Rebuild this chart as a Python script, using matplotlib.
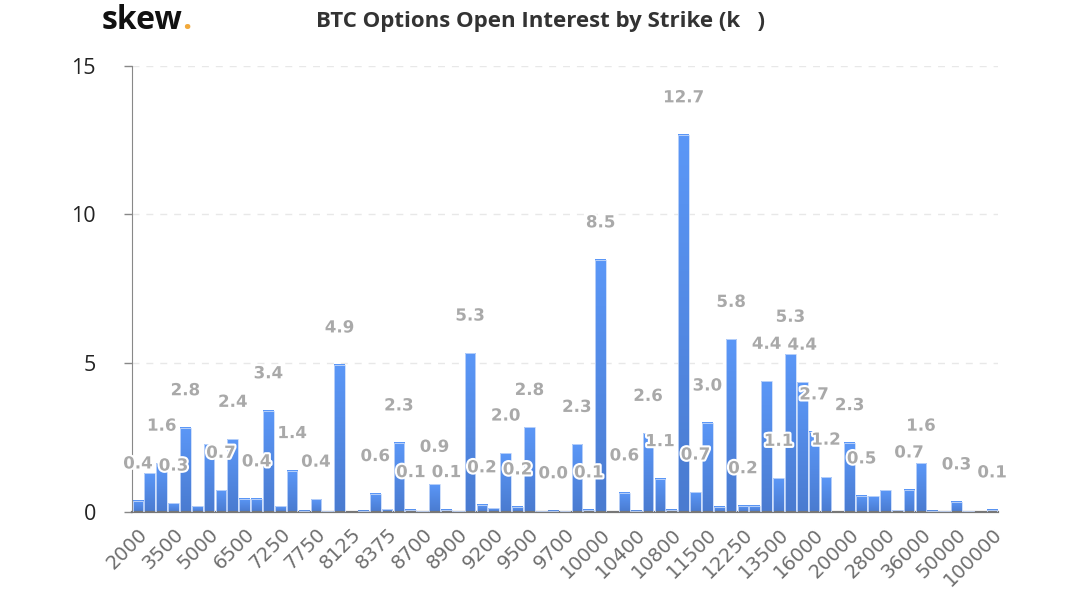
import matplotlib.pyplot as plt
import matplotlib.patheffects as pe
import numpy as np

values = [0.37, 1.3, 1.64, 0.3, 2.83, 0.2, 2.27, 0.73, 2.44, 0.44,
          0.44, 3.4, 0.2, 1.39, 0.04, 0.43, 0.03, 4.94, 0.01, 0.04,
          0.62, 0.1, 2.32, 0.08, 0.03, 0.93, 0.08, 0.02, 5.34, 0.24,
          0.12, 1.98, 0.17, 2.84, 0.03, 0.04, 0.03, 2.27, 0.07, 8.47,
          0.01, 0.64, 0.05, 2.64, 1.12, 0.08, 12.67, 0.67, 2.99, 0.17,
          5.8, 0.21, 0.21, 4.39, 1.13, 5.3, 4.36, 2.69, 1.17, 0.01,
          2.33, 0.54, 0.53, 0.73, 0.06, 0.74, 1.64, 0.05, 0.03, 0.34,
          0.03, 0.01, 0.07]
# only every few bars gets a label in the original
labelled = [0, 2, 3, 4, 7, 8, 10, 11, 13, 15, 17, 20, 22, 23, 25, 26, 28, 29,
            31, 32, 33, 35, 37, 38, 39, 41, 43, 44, 46, 47, 48, 50, 51, 53, 54,
            55, 56, 57, 58, 60, 61, 65, 66, 69, 72]
ticklabels = ["2000", "3500", "5000", "6500", "7250", "7750", "8125", "8375",
              "8700", "8900", "9200", "9500", "9700", "10000", "10400", "10800",
              "11500", "12250", "13500", "16000", "20000", "28000", "36000",
              "50000", "100000"]

W, H = 1080, 603
fig = plt.figure(figsize=(W / 100, H / 100), dpi=100)
ax = fig.add_axes([132 / W, 1 - 512 / H, 866 / W, (512 - 65.5) / H])

x = np.arange(len(values))
grad = np.linspace(0, 1, 64).reshape(-1, 1)
cmap = plt.matplotlib.colors.LinearSegmentedColormap.from_list("bar", ["#5b97f7", "#4a7bd0"])
bars = ax.bar(x, values, width=0.9, color="none", edgecolor="#c6d9fa", linewidth=0.6, zorder=3)
for xx, v in zip(x, values):
    ax.imshow(grad, extent=(xx - 0.45, xx + 0.45, 0, v), aspect="auto", cmap=cmap,
              origin="upper", zorder=2, interpolation="bilinear")

for i in labelled:
    ax.annotate(f"{values[i]:.1f}", (x[i], values[i]), xytext=(0, 27), textcoords="offset points",
                ha="center", va="center", fontsize=12, fontweight="bold", color="#a9a9a9",
                zorder=5, path_effects=[pe.withStroke(linewidth=3, foreground="white")])

ax.set_xlim(-0.5, len(values) - 0.5)
ax.set_ylim(0, 15)
ax.set_yticks([0, 5, 10, 15])
ax.set_xticks(x[::3])
ax.set_xticklabels(ticklabels, rotation=45, ha="right", rotation_mode="anchor",
                   fontsize=14, color="#6e6e6e")
ax.tick_params(axis="x", length=0, pad=9)
ax.tick_params(axis="y", length=6, width=1, color="#888888", pad=20, labelsize=15.5, labelcolor="#222222")
for t in ax.get_yticklabels():
    t.set_family("Open Sans")

ax.yaxis.grid(True, linestyle=(0, (5, 5)), color="#e8e8e8", linewidth=1)
ax.set_axisbelow(True)
ax.spines["top"].set_visible(False)
ax.spines["right"].set_visible(False)
ax.spines["left"].set_color("#888888")
ax.spines["bottom"].set_color("#777777")
ax.spines["bottom"].set_linewidth(1.6)

fig.text(540 / W, 1 - 22 / H, "BTC Options Open Interest by Strike (k   )", ha="center", va="center",
         fontsize=16, fontweight="bold", color="#333333", family="Open Sans")
fig.text(102 / W, 1 - 29 / H, "skew", ha="left", va="baseline", fontsize=23, fontweight="bold",
         color="#111111", family="Open Sans")
fig.text(182 / W, 1 - 29 / H, ".", ha="left", va="baseline", fontsize=23, fontweight="bold",
         color="#f2a93b", family="Open Sans")

fig.savefig("out.png", dpi=100)
